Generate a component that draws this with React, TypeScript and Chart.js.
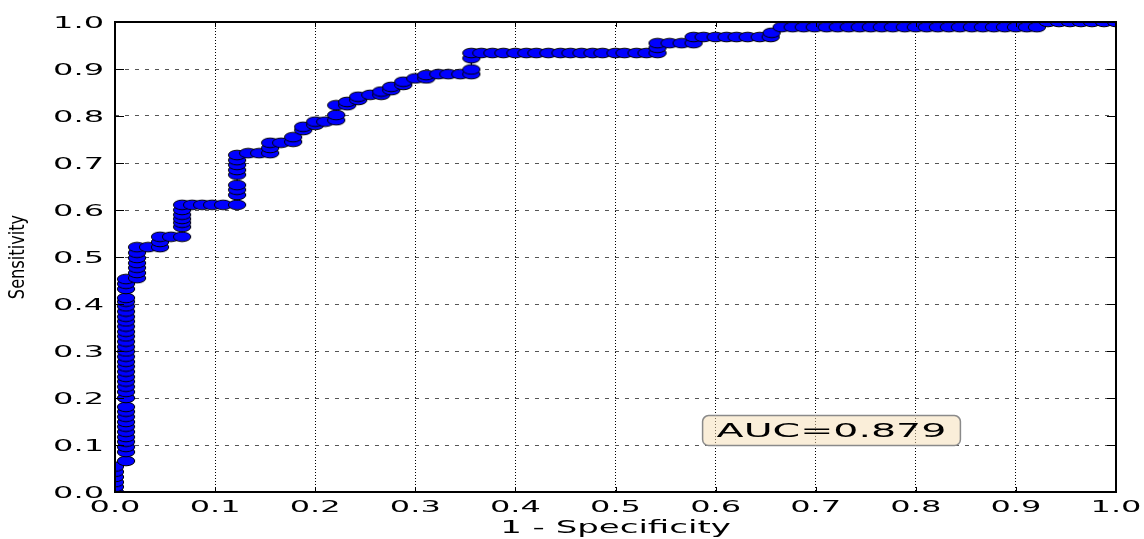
import { useEffect, useRef } from "react";
import { Chart, registerables } from "chart.js";

Chart.register(...registerables);

// ROC curve points (false positive rate, true positive rate)
const fpr: number[] = [
  0, 0, 0, 0, 0, 0,
  0.011, 0.011, 0.011, 0.011, 0.011, 0.011, 0.011, 0.011, 0.011, 0.011,
  0.011, 0.011, 0.011, 0.011, 0.011, 0.011, 0.011, 0.011, 0.011, 0.011,
  0.011, 0.011, 0.011, 0.011, 0.011, 0.011, 0.011, 0.011, 0.011, 0.011,
  0.011, 0.011, 0.011, 0.011, 0.011,
  0.022, 0.022, 0.022, 0.022, 0.022, 0.022, 0.022,
  0.033, 0.045, 0.045, 0.045, 0.056, 0.067,
  0.067, 0.067, 0.067, 0.067, 0.067, 0.067,
  0.077, 0.087, 0.097, 0.108, 0.122,
  0.122, 0.122, 0.122, 0.122, 0.122, 0.122, 0.122, 0.122,
  0.133, 0.144, 0.155, 0.155, 0.155, 0.166, 0.178, 0.178, 0.188, 0.188,
  0.2, 0.2, 0.21, 0.221, 0.221, 0.221, 0.232, 0.232, 0.243, 0.243,
  0.255, 0.266, 0.266, 0.276, 0.276, 0.288, 0.288, 0.3, 0.311, 0.311,
  0.323, 0.333, 0.345, 0.356, 0.356, 0.356, 0.356,
  0.366, 0.377, 0.388, 0.4, 0.411, 0.421, 0.433, 0.445, 0.455, 0.466,
  0.477, 0.487, 0.5, 0.509, 0.521, 0.531, 0.542,
  0.542, 0.542, 0.554, 0.566, 0.578, 0.578, 0.588, 0.6, 0.611, 0.621,
  0.632, 0.644, 0.655, 0.656,
  0.666, 0.677, 0.688, 0.699, 0.711, 0.722, 0.733, 0.744, 0.755, 0.766,
  0.777, 0.789, 0.8, 0.811, 0.822, 0.833, 0.844, 0.856, 0.867, 0.878,
  0.889, 0.9, 0.911, 0.921,
  0.932, 0.943, 0.954, 0.965, 0.976, 0.988, 1.0,
];

const tpr: number[] = [
  0, 0.011, 0.021, 0.032, 0.043, 0.054,
  0.066, 0.085, 0.096, 0.107, 0.117, 0.128, 0.139, 0.149, 0.16, 0.171,
  0.181, 0.2, 0.213, 0.224, 0.235, 0.245, 0.256, 0.267, 0.277, 0.288,
  0.299, 0.309, 0.32, 0.331, 0.341, 0.352, 0.363, 0.373, 0.384, 0.395,
  0.405, 0.413, 0.432, 0.443, 0.453,
  0.455, 0.466, 0.477, 0.487, 0.498, 0.509, 0.521,
  0.521, 0.521, 0.532, 0.543, 0.543, 0.543,
  0.564, 0.573, 0.581, 0.59, 0.6, 0.611,
  0.611, 0.611, 0.611, 0.611, 0.611,
  0.632, 0.643, 0.653, 0.675, 0.685, 0.696, 0.706, 0.717,
  0.721, 0.721, 0.721, 0.732, 0.743, 0.743, 0.745, 0.755, 0.77, 0.777,
  0.781, 0.788, 0.788, 0.791, 0.802, 0.823, 0.823, 0.83, 0.834, 0.841,
  0.845, 0.845, 0.852, 0.855, 0.862, 0.866, 0.873, 0.88, 0.88, 0.887,
  0.889, 0.889, 0.889, 0.889, 0.899, 0.923, 0.934,
  0.934, 0.934, 0.934, 0.934, 0.934, 0.934, 0.934, 0.934, 0.934, 0.934,
  0.934, 0.934, 0.934, 0.934, 0.934, 0.934, 0.934,
  0.945, 0.955, 0.955, 0.955, 0.955, 0.968, 0.968, 0.968, 0.968, 0.968,
  0.968, 0.968, 0.968, 0.977,
  0.989, 0.989, 0.989, 0.989, 0.989, 0.989, 0.989, 0.989, 0.989, 0.989,
  0.989, 0.989, 0.989, 0.989, 0.989, 0.989, 0.989, 0.989, 0.989, 0.989,
  0.989, 0.989, 0.989, 0.989,
  1.0, 1.0, 1.0, 1.0, 1.0, 1.0, 1.0,
];

const xTickLabels = ["0.0", "0.1", "0.2", "0.3", "0.4", "0.5", "0.6", "0.7", "0.8", "0.9", "1.0"];
const yTickLabels = ["0.0", "0.1", "0.2", "0.3", "0.4", "0.5", "0.6", "0.7", "0.8", "0.9", "1.0"];
const xAxisTitle = "1 - Specificity";
const yAxisTitle = "Sensitivity";
const aucText = "AUC=0.879";
const aucAnchor = { x: 0.6, y: 0.12 };

const STRETCH = 2.0;

function makeMarker(): HTMLCanvasElement {
  const c = document.createElement("canvas");
  c.width = 20;
  c.height = 12;
  const g = c.getContext("2d")!;
  g.beginPath();
  g.ellipse(10, 6, 8.7, 4.8, 0, 0, Math.PI * 2);
  g.fillStyle = "#0000ff";
  g.fill();
  g.lineWidth = 1;
  g.strokeStyle = "#000000";
  g.stroke();
  return c;
}

function stretchedText(
  ctx: CanvasRenderingContext2D,
  text: string,
  x: number,
  y: number,
  font: string,
  align: CanvasTextAlign,
  sx: number
) {
  ctx.save();
  ctx.font = font;
  ctx.textAlign = align;
  ctx.textBaseline = "alphabetic";
  ctx.fillStyle = "#000";
  ctx.translate(x, y);
  ctx.scale(sx, 1);
  ctx.fillText(text, 0, 0);
  ctx.restore();
}

const decorPlugin = {
  id: "decor",
  beforeDraw(chart: any) {
    const ctx = chart.ctx as CanvasRenderingContext2D;
    ctx.save();
    ctx.fillStyle = "#ffffff";
    ctx.fillRect(0, 0, chart.width, chart.height);
    ctx.restore();
  },
  afterDraw(chart: any) {
    const ctx = chart.ctx as CanvasRenderingContext2D;
    const { left, right, top, bottom } = chart.chartArea;
    const xs = chart.scales.x;
    const ys = chart.scales.y;

    // AUC annotation box
    const tFont = "19px 'DejaVu Sans'";
    ctx.save();
    ctx.font = tFont;
    const tw = ctx.measureText(aucText).width * 2.08;
    ctx.restore();
    const tx = xs.getPixelForValue(aucAnchor.x) + 1;
    const ty = ys.getPixelForValue(aucAnchor.y) + 1;
    const bx = tx - 14;
    const by = ty - 21;
    const bw = tw + 28;
    const bh = 30;
    ctx.save();
    ctx.beginPath();
    (ctx as any).roundRect(bx, by, bw, bh, 6);
    ctx.fillStyle = "rgba(245,222,179,0.5)";
    ctx.fill();
    ctx.lineWidth = 1.5;
    ctx.strokeStyle = "#8a8a8a";
    ctx.stroke();
    ctx.restore();
    stretchedText(ctx, aucText, tx, ty, tFont, "left", 2.08);

    // frame
    ctx.save();
    ctx.strokeStyle = "#000";
    ctx.lineWidth = 2;
    ctx.strokeRect(left, top, right - left, bottom - top);
    ctx.lineWidth = 1;
    // inward ticks
    ctx.beginPath();
    xs.ticks.forEach((t: any) => {
      const px = Math.round(xs.getPixelForValue(t.value)) + 0.5;
      ctx.moveTo(px, bottom);
      ctx.lineTo(px, bottom - 5);
      ctx.moveTo(px, top);
      ctx.lineTo(px, top + 5);
    });
    ys.ticks.forEach((t: any) => {
      const py = Math.round(ys.getPixelForValue(t.value)) + 0.5;
      ctx.moveTo(left, py);
      ctx.lineTo(left + 9, py);
      ctx.moveTo(right, py);
      ctx.lineTo(right - 9, py);
    });
    ctx.stroke();
    ctx.restore();

    // tick labels
    const lf = "16px 'DejaVu Sans'";
    xs.ticks.forEach((t: any, i: number) => {
      const px = xs.getPixelForValue(t.value);
      stretchedText(ctx, xTickLabels[i] ?? "", px, bottom + 20, lf, "center", STRETCH);
    });
    ys.ticks.forEach((t: any, i: number) => {
      const py = ys.getPixelForValue(t.value);
      stretchedText(ctx, yTickLabels[i] ?? "", left - 11, py + 6, lf, "right", STRETCH);
    });

    // axis titles
    stretchedText(ctx, xAxisTitle, (left + right) / 2, bottom + 41, "17px 'DejaVu Sans'", "center", STRETCH);
    ctx.save();
    ctx.translate(24, (top + bottom) / 2);
    ctx.rotate(-Math.PI / 2);
    ctx.scale(1, 1.15);
    ctx.font = "18px 'DejaVu Sans Condensed'";
    ctx.textAlign = "center";
    ctx.textBaseline = "alphabetic";
    ctx.fillStyle = "#000";
    ctx.fillText(yAxisTitle, 0, 0);
    ctx.restore();
  },
};

export default function App() {
  const ref = useRef<HTMLCanvasElement | null>(null);

  useEffect(() => {
    if (!ref.current) return;
    const marker = makeMarker();
    const points = fpr.map((x, i) => ({ x, y: tpr[i] }));
    const chart = new Chart(ref.current, {
      type: "scatter",
      data: {
        datasets: [
          {
            data: points,
            showLine: true,
            borderColor: "#000000",
            borderWidth: 1.2,
            pointStyle: marker as any,
            pointRadius: 5,
            backgroundColor: "#0000ff",
            clip: 0,
          } as any,
        ],
      },
      options: {
        animation: false,
        responsive: false,
        events: [],
        layout: { padding: { left: 115, right: 28, top: 22, bottom: 47 } },
        plugins: {
          legend: { display: false },
          tooltip: { enabled: false },
        },
        scales: {
          x: {
            type: "linear",
            min: 0,
            max: 1,
            ticks: { stepSize: 0.1, display: false },
            grid: { color: "#000000", lineWidth: 1, drawTicks: false },
            border: { display: false, dash: [1, 2] },
          },
          y: {
            type: "linear",
            min: 0,
            max: 1,
            ticks: { stepSize: 0.1, display: false },
            grid: { color: "#555555", lineWidth: 1, drawTicks: false },
            border: { display: false, dash: [4, 6] },
          },
        },
      },
      plugins: [decorPlugin],
    });
    return () => chart.destroy();
  }, []);

  return (
    <div style={{ position: "fixed", left: 0, top: 0, width: 1144, height: 539, background: "#fff" }}>
      <canvas ref={ref} width={1144} height={539} style={{ display: "block", width: 1144, height: 539 }} />
    </div>
  );
}
